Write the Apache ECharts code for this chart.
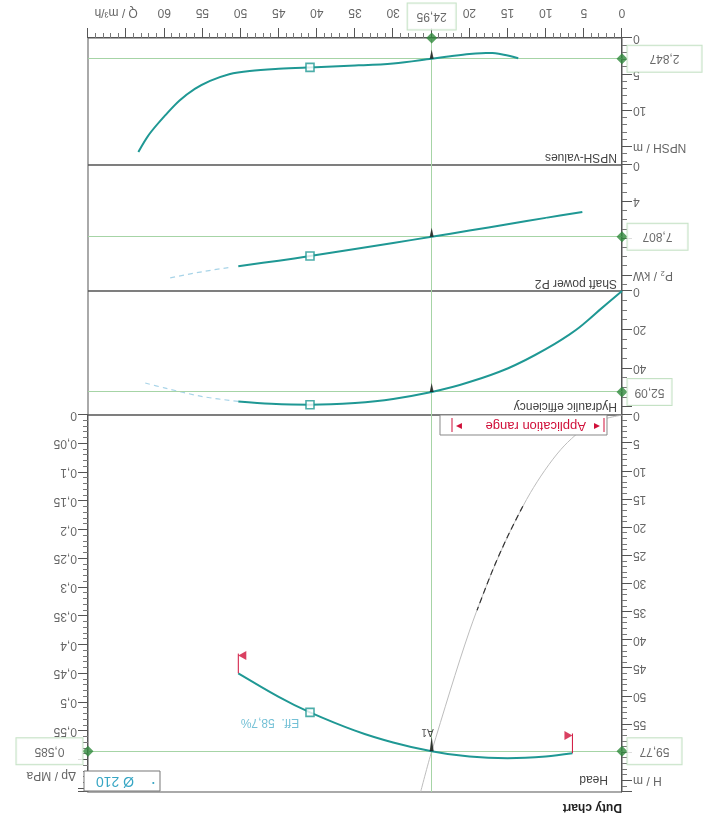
<!DOCTYPE html>
<html><head><meta charset="utf-8">
<script src="https://cdn.jsdelivr.net/npm/echarts@6/dist/echarts.min.js"></script>
<style>html,body{margin:0;padding:0;background:#fff;}#c{width:708px;height:818px;transform:rotate(180deg);background:#fff;}</style>
</head><body><div id="c"></div>
<script>
// ---- data ----
const headQ = [6.5, 10, 15, 20, 24.95, 30, 35, 40.9, 45, 50.3];
const headH = [60.1, 60.7, 61.0, 60.7, 59.77, 58.2, 56.1, 52.85, 50.1, 45.9];
const effQ = [0, 3, 6, 10, 15, 20, 24.95, 30, 35, 40.9, 46, 50.3];
const effV = [0, 10, 20, 30, 40, 47, 52.09, 55.8, 57.8, 58.7, 58.2, 57];
const effExtQ = [50.3, 55, 60, 62.5];
const effExtV = [57, 54.5, 50, 47.5];
const powQ = [5.2, 10, 15, 20, 24.95, 30, 35, 40.9, 45, 50.3];
const powV = [5.1, 5.75, 6.45, 7.13, 7.807, 8.47, 9.13, 9.9, 10.4, 11.0];
const powExtQ = [51.6, 55, 59.4];
const powExtV = [11.15, 11.6, 12.3];
const npshQ = [13.6, 15.5, 17.3, 20, 22.5, 24.95, 30, 35, 40.9, 45, 48.8, 51.5, 54, 56, 58, 60, 62, 63.4];
const npshV = [2.8, 2.3, 2.05, 2.2, 2.5, 2.847, 3.5, 3.8, 4.05, 4.25, 4.55, 5.0, 5.9, 7.0, 8.6, 10.8, 13.3, 15.7];
const sysQ = [0, 4, 8, 12, 16, 20, 24.95, 26.4];
const sysH = [0, 1.5, 6.1, 13.8, 24.6, 38.4, 59.77, 67];
const sysDarkQ = [13, 15, 17, 19];
const sysDarkH = [16.2, 21.6, 27.7, 34.7];
const dutyQ = 24.95, dutyH = 59.77, dutyP = 0.585, dutyEff = 52.09, dutyP2 = 7.807, dutyNpsh = 2.847;
const bepQ = 40.9, bepH = 52.85, bepEff = 58.7, bepP2 = 9.9, bepNpsh = 4.05;
const xLabels = [0, 5, 10, 15, 20, 30, 35, 40, 45, 50, 55, 60];
const headLabels = [0, 5, 10, 15, 20, 25, 30, 35, 40, 45, 50, 55];
const pLabels = [0, 0.05, 0.1, 0.15, 0.2, 0.25, 0.3, 0.35, 0.4, 0.45, 0.5, 0.55];
const effLabels = [0, 20, 40];
const powLabels = [0, 4];
const npshLabels = [0, 5, 10];

// ---- styles ----
const FONT = '"Liberation Sans", Arial, sans-serif';
const teal = '#1f9894', extC = '#a8d4e8', green = '#a6d4a6', dgreen = '#2f8a3c', axisC = '#555', lab = '#666';
const zip = (a, b) => a.map((v, i) => [v, b[i]]);
const comma = v => String(v).replace('.', ',');
const rnd = v => Math.round(v * 1000) / 1000;

const grids = [
  {left: 86, right: 88, top: 26, height: 377},
  {left: 86, right: 88, top: 403, height: 124},
  {left: 86, right: 88, top: 527, height: 126},
  {left: 86, right: 88, top: 653, height: 127}
].map(g => Object.assign(g, {show: true, borderColor: axisC, borderWidth: 1, backgroundColor: 'transparent', containLabel: false, outerBoundsMode: 'none'}));

function mkX(i, show) {
  return {
    type: 'value', gridIndex: i, min: 0, max: 70, interval: 5,
    axisLine: {show: show, lineStyle: {color: axisC}},
    axisTick: {show: show, length: 10, lineStyle: {color: axisC}},
    minorTick: {show: show, splitNumber: 5, length: 5, lineStyle: {color: '#777'}},
    splitLine: {show: false}, minorSplitLine: {show: false},
    axisLabel: {show: show, margin: 20, color: lab, fontSize: 12, fontFamily: FONT, showMinLabel: true, showMaxLabel: true,
      formatter: v => { v = rnd(v); if (v === 65) return '{n|Q / m³/h}'; return xLabels.includes(v) ? String(v) : ''; },
      rich: {n: {padding: [0, 0, 0, 20], color: lab, fontSize: 12, fontFamily: FONT}}}
  };
}
function mkY(i, pos, min, max, interval, split, fmt) {
  return {
    type: 'value', gridIndex: i, position: pos, min: min, max: max, interval: interval,
    axisLine: {show: true, lineStyle: {color: axisC}},
    axisTick: {show: true, length: 10, lineStyle: {color: axisC}},
    minorTick: {show: true, splitNumber: split, length: 5, lineStyle: {color: '#777'}},
    splitLine: {show: false}, minorSplitLine: {show: false},
    axisLabel: {margin: 11, color: lab, fontSize: 12, fontFamily: FONT, showMinLabel: true, showMaxLabel: true, formatter: fmt}
  };
}

const yAxes = [
  mkY(0, 'left', 0, 67, 5, 5, v => { v = rnd(v); if (v === 65) return 'H / m'; return headLabels.includes(v) ? String(v) : ''; }),
  mkY(0, 'right', 0, 0.6558, 0.05, 5, v => { v = rnd(v); return pLabels.includes(v) ? comma(v) : ''; }),
  mkY(1, 'left', 0, 64, 20, 4, v => { v = rnd(v); return effLabels.includes(v) ? String(v) : ''; }),
  mkY(2, 'left', 0, 13.7, 4, 4, v => { v = rnd(v); if (v === 12) return 'P₂ / kW'; return powLabels.includes(v) ? String(v) : ''; }),
  mkY(3, 'left', 0, 17.5, 5, 5, v => { v = rnd(v); if (v === 15) return 'NPSH / m'; return npshLabels.includes(v) ? String(v) : ''; })
];

function dutyLines(yv) {
  return {silent: true, symbol: ['none', 'none'], label: {show: false}, animation: false,
    lineStyle: {color: green, width: 1, type: 'solid'}, emphasis: {disabled: true},
    data: [{xAxis: dutyQ}, {yAxis: yv}]};
}
function curve(xi, yi, q, v, yv) {
  return {type: 'line', xAxisIndex: xi, yAxisIndex: yi, data: zip(q, v), smooth: 0.35, showSymbol: false,
    lineStyle: {color: teal, width: 2}, z: 5, markLine: yv === undefined ? undefined : dutyLines(yv)};
}
function extCurve(xi, yi, q, v) {
  return {type: 'line', xAxisIndex: xi, yAxisIndex: yi, data: zip(q, v), smooth: 0.3, showSymbol: false,
    lineStyle: {color: extC, width: 1.2, type: [5, 4]}, z: 4};
}
function square(xi, yi, q, v, label) {
  return {type: 'scatter', xAxisIndex: xi, yAxisIndex: yi, data: [[q, v]], symbol: 'rect', symbolSize: 8, z: 8,
    itemStyle: {color: '#fff', borderColor: teal, borderWidth: 1.6},
    label: label ? {show: true, position: 'right', distance: 6, offset: [0, -10], formatter: label, color: '#52b2cc', fontSize: 12, fontFamily: FONT} : {show: false}};
}
function spike(xi, yi, q, v, len, text) {
  return {type: 'scatter', xAxisIndex: xi, yAxisIndex: yi, data: [[q, v]], symbol: 'triangle', symbolSize: [4, len],
    symbolRotate: 180, symbolOffset: [0, len / 2], itemStyle: {color: '#111'}, z: 9,
    label: text ? {show: true, position: 'bottom', distance: 0, offset: [4, 0], formatter: text, color: '#222', fontSize: 10, fontFamily: FONT} : {show: false}};
}
function diamond(xi, yi, q, v, text, pos, padH, dist) {
  return {type: 'scatter', xAxisIndex: xi, yAxisIndex: yi, data: [[q, v]], symbol: 'diamond', symbolSize: 11, clip: false, z: 10,
    itemStyle: {color: dgreen},
    label: {show: true, position: pos, distance: dist, formatter: text, color: '#444', fontSize: 12, fontFamily: FONT,
      backgroundColor: '#fff', borderColor: '#b7dbb7', borderWidth: 1, padding: [7, padH]}};
}

const poleLen = 3.5;
const flagL = [headQ[0], headH[0]];
const flagR = [headQ[headQ.length - 1], headH[headH.length - 1]];
function pole(p) {
  return {type: 'line', xAxisIndex: 0, yAxisIndex: 0, data: [p, [p[0], p[1] - poleLen]], showSymbol: false,
    lineStyle: {color: '#d0103a', width: 1}, z: 6};
}
function flag(p, rot, off) {
  return {type: 'scatter', xAxisIndex: 0, yAxisIndex: 0, data: [[p[0], p[1] - poleLen]], symbol: 'triangle', symbolSize: [9, 8],
    symbolRotate: rot, symbolOffset: [off, -2], itemStyle: {color: '#d0103a'}, z: 7};
}

const series = [
  {type: 'line', xAxisIndex: 0, yAxisIndex: 0, data: zip(sysQ, sysH), smooth: 0.3, showSymbol: false, lineStyle: {color: '#bdbdbd', width: 1}, z: 3},
  {type: 'line', xAxisIndex: 0, yAxisIndex: 0, data: zip(sysDarkQ, sysDarkH), smooth: 0.3, showSymbol: false, lineStyle: {color: '#333', width: 1.2, type: [6, 4]}, z: 3},
  curve(0, 0, headQ, headH, dutyH),
  pole(flagL), pole(flagR),
  flag(flagL, 90, 4), flag(flagR, -90, -4),
  square(0, 0, bepQ, bepH, 'Eff.  58,7%'),
  spike(0, 0, dutyQ, dutyH, 15, 'A1'),
  diamond(0, 0, 0, dutyH, '59,77', 'left', 12, 0),
  diamond(0, 1, 70, dutyP, '0,585', 'right', 18, 0),

  curve(1, 2, effQ, effV, dutyEff), extCurve(1, 2, effExtQ, effExtV),
  square(1, 2, bepQ, bepEff), spike(1, 2, dutyQ, dutyEff, 9),
  diamond(1, 2, 0, dutyEff, '52,09', 'left', 7, 0),

  curve(2, 3, powQ, powV, dutyP2), extCurve(2, 3, powExtQ, powExtV),
  square(2, 3, bepQ, bepP2), spike(2, 3, dutyQ, dutyP2, 9),
  diamond(2, 3, 0, dutyP2, '7,807', 'left', 15, 0),

  curve(3, 4, npshQ, npshV, dutyNpsh),
  square(3, 4, bepQ, bepNpsh), spike(3, 4, dutyQ, dutyNpsh, 9),
  diamond(3, 4, 0, dutyNpsh, '2,847', 'left', 22, 0),
  diamond(3, 4, dutyQ, 0, '24,95', 'bottom', 9, 3)
];

const titleStyle = t => ({text: t, font: '12px ' + FONT, fill: '#444'});
const graphic = [
  {type: 'text', left: 86, top: 5, style: {text: 'Duty chart', font: 'bold 12px ' + FONT, fill: '#222'}},
  {type: 'text', left: 100, top: 33, style: titleStyle('Head')},
  {type: 'text', left: 91, top: 406, style: titleStyle('Hydraulic efficiency')},
  {type: 'text', left: 91, top: 529, style: titleStyle('Shaft power P2')},
  {type: 'text', left: 91, top: 655, style: titleStyle('NPSH-values')},
  {type: 'text', left: 632, top: 37, style: {text: 'Δp / MPa', font: '12px ' + FONT, fill: lab}},
  {type: 'rect', shape: {x: 548, y: 27, width: 76, height: 20}, style: {fill: '#fff', stroke: '#777', lineWidth: 1}, z: 20},
  {type: 'text', x: 553, y: 30, style: {text: '·', font: 'bold 12px ' + FONT, fill: '#3aa6c4'}, z: 21},
  {type: 'text', x: 574, y: 30, style: {text: 'Ø 210', font: '14px ' + FONT, fill: '#37a6c4'}, z: 21},
  {type: 'rect', shape: {x: 101, y: 383, width: 167, height: 20}, style: {fill: '#fff', stroke: '#888', lineWidth: 1}, z: 20},
  {type: 'line', shape: {x1: 104, y1: 386, x2: 104, y2: 400}, style: {stroke: '#d0103a', lineWidth: 1}, z: 21},
  {type: 'line', shape: {x1: 256, y1: 386, x2: 256, y2: 400}, style: {stroke: '#d0103a', lineWidth: 1}, z: 21},
  {type: 'text', x: 108, y: 386, style: {text: '◂', font: '12px ' + FONT, fill: '#d0103a'}, z: 21},
  {type: 'text', x: 246, y: 386, style: {text: '▸', font: '12px ' + FONT, fill: '#d0103a'}, z: 21},
  {type: 'text', x: 122, y: 386, style: {text: 'Application range', font: '13px ' + FONT, fill: '#d0103a'}, z: 21}
];

const chart = echarts.init(document.getElementById('c'));
chart.setOption({
  animation: false,
  backgroundColor: '#fff',
  textStyle: {fontFamily: FONT},
  grid: grids,
  xAxis: [mkX(0, false), mkX(1, false), mkX(2, false), mkX(3, true)],
  yAxis: yAxes,
  series: series,
  graphic: graphic
});
</script></body></html>
